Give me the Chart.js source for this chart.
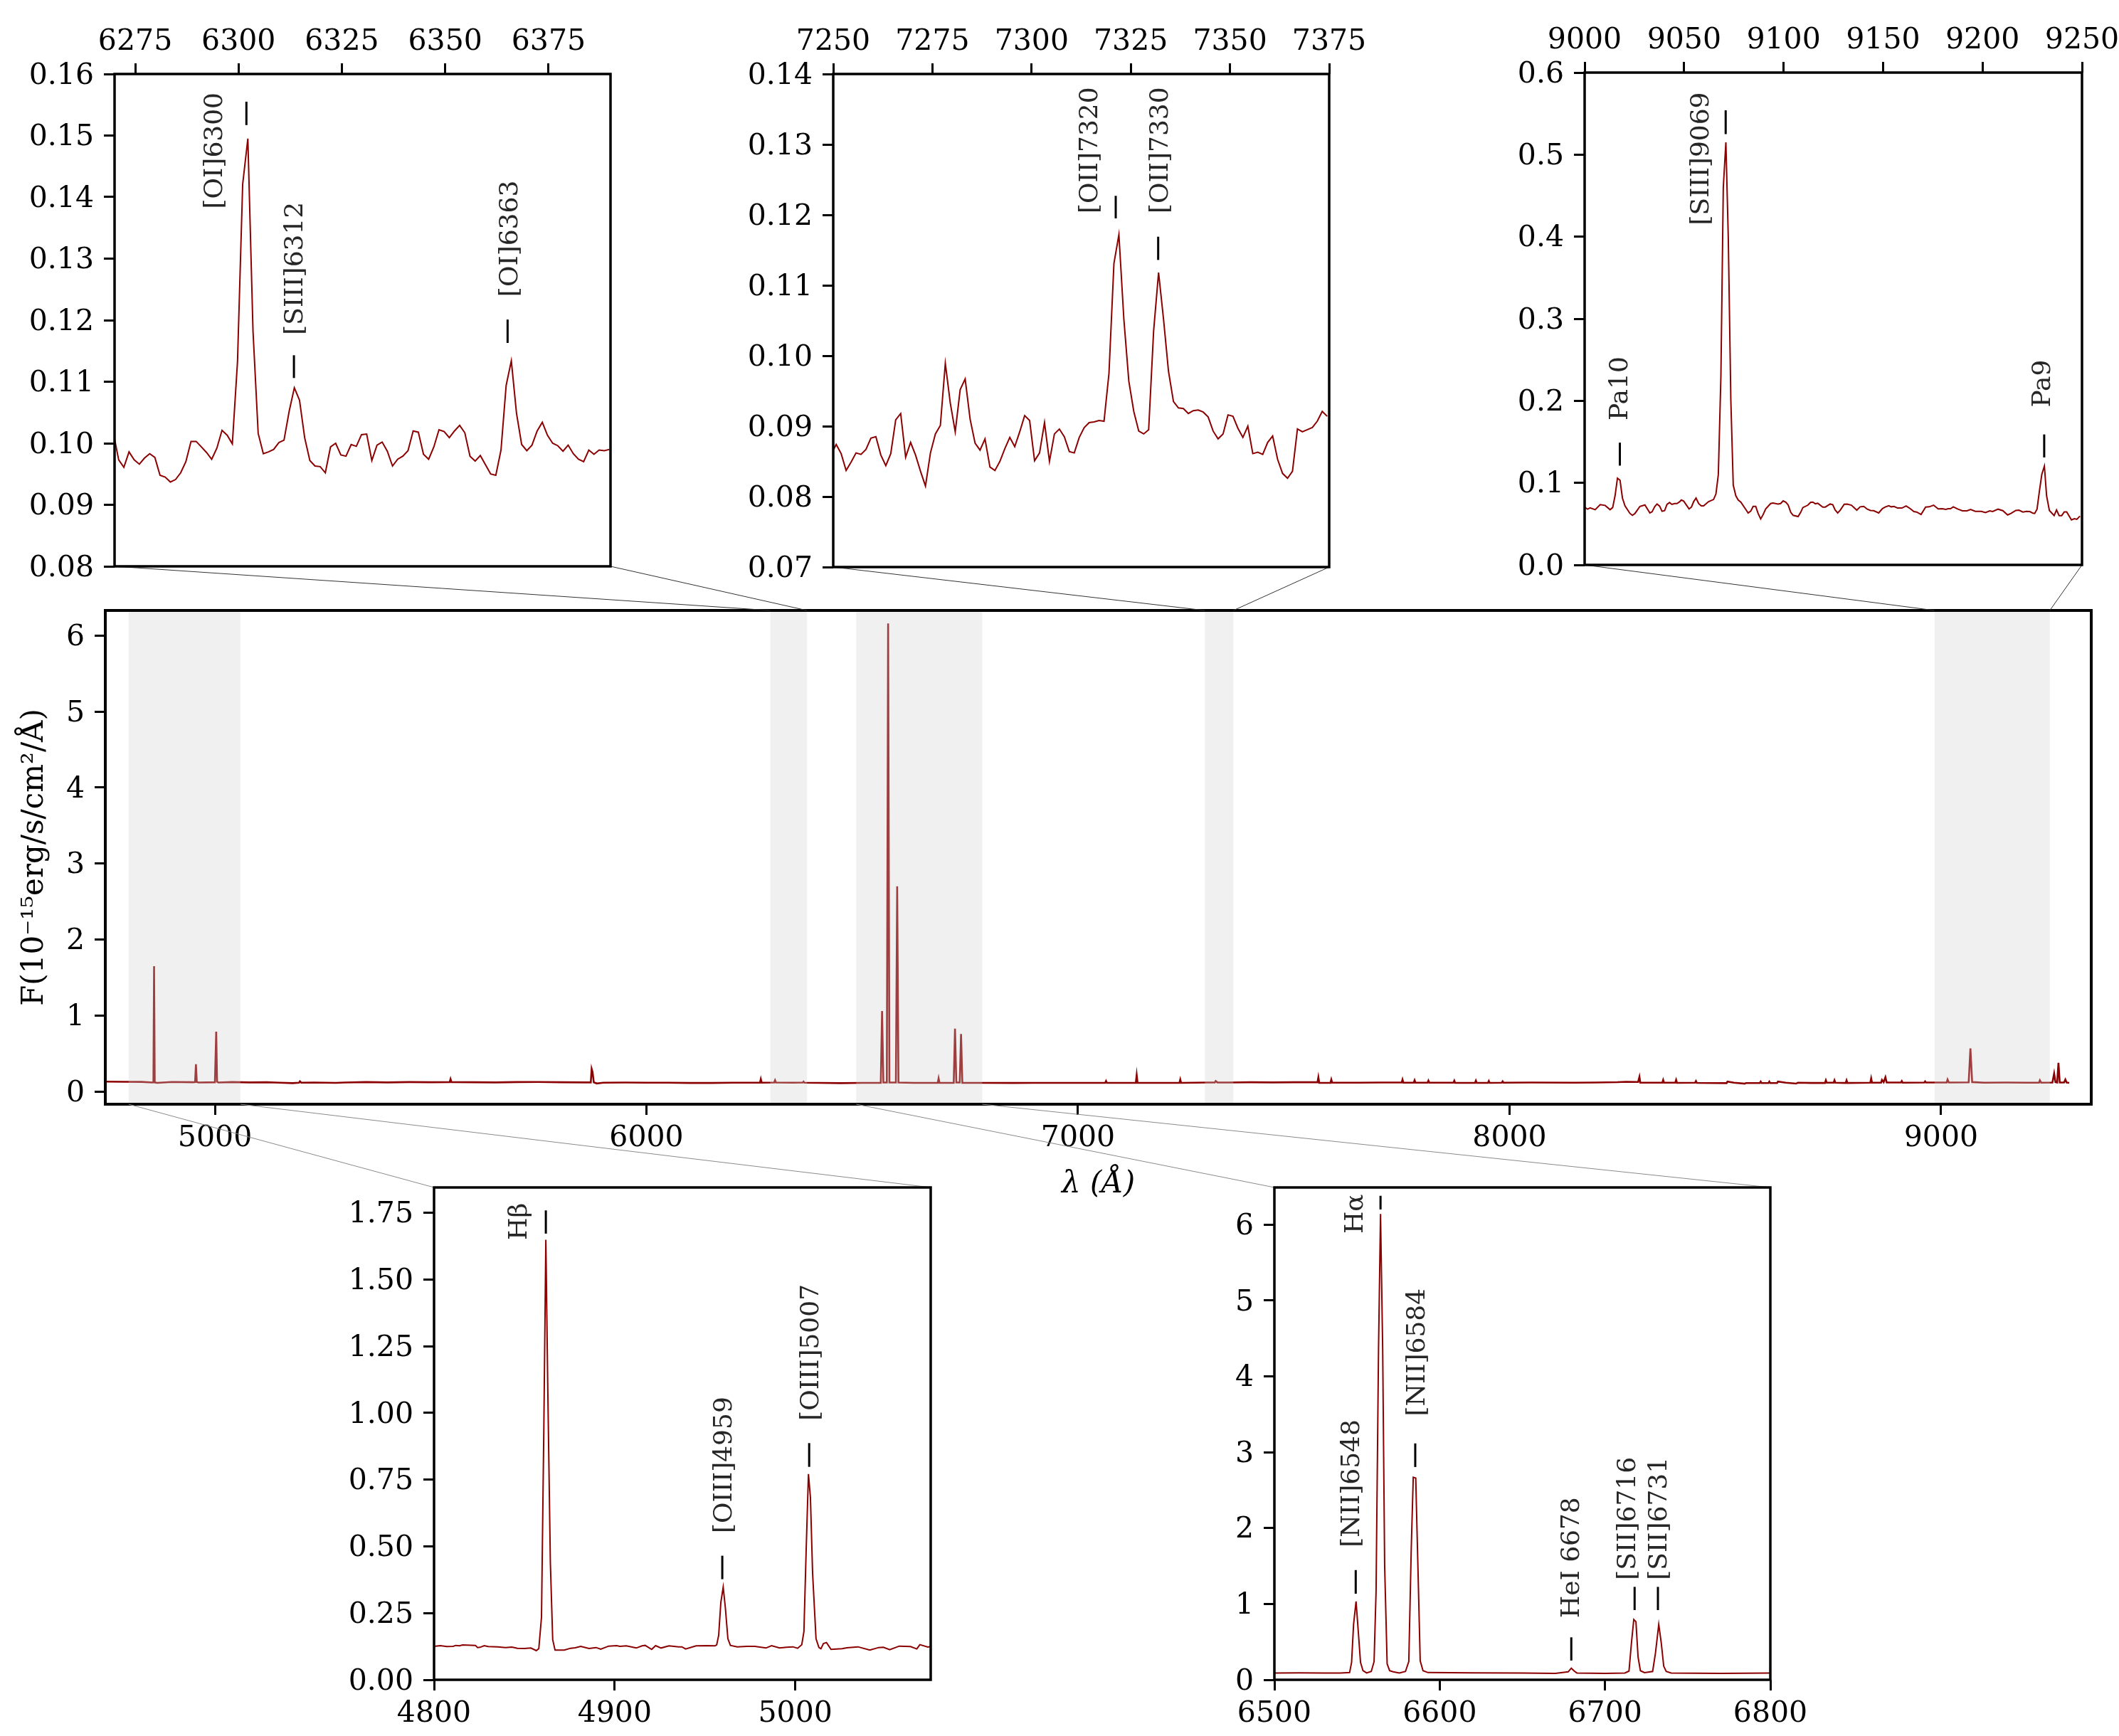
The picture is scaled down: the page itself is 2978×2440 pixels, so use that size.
<!DOCTYPE html>
<html><head><meta charset="utf-8">
<script src="https://cdn.jsdelivr.net/npm/chart.js@4"></script>
<style>html,body{margin:0;padding:0;background:#fff;width:2978px;height:2440px;overflow:hidden}canvas{position:absolute;display:block}</style>
</head><body>
<script>
// ---- data ----
const oiWave=[6270,6271,6272.25,6273.5,6274.75,6276,6277.25,6278.5,6279.75,6281,
6282.25,6283.5,6284.75,6286,6287.25,6288.5,6289.75,6291,6292.25,6293.5,
6294.75,6296,6297.25,6298.5,6299.75,6301,6302.25,6303.5,6304.75,6306,
6307.25,6308.5,6309.75,6311,6312.25,6313.5,6314.75,6316,6317.25,6318.5,
6319.75,6321,6322.25,6323.5,6324.75,6326,6327.25,6328.5,6329.75,6331,
6332.25,6333.5,6334.75,6336,6337.25,6338.5,6339.75,6341,6342.25,6343.5,
6344.75,6346,6347.25,6348.5,6349.75,6351,6352.25,6353.5,6354.75,6356,
6357.25,6358.5,6359.75,6361,6362.25,6363.5,6364.75,6366,6367.25,6368.5,
6369.75,6371,6372.25,6373.5,6374.75,6376,6377.25,6378.5,6379.75,6381,
6382.25,6383.5,6384.75,6386,6387.25,6388.5,6389.75];
const oiFlux=[.1007,.0973,.0961,.0986,.0973,.0966,.0976,.0983,.0977,.0948,
.0945,.0937,.0941,.0952,.0970,.1003,.1003,.0994,.0985,.0974,
.0992,.1021,.1013,.0999,.1133,.1421,.1495,.1182,.1016,.0983,
.0986,.0990,.1001,.1005,.1052,.1090,.1070,.1009,.0972,.0963,
.0962,.0952,.0994,.1000,.0981,.0979,.0998,.0995,.1014,.1015,
.0972,.0997,.1002,.0987,.0963,.0974,.0979,.0988,.1020,.1018,
.0982,.0974,.0994,.1022,.1019,.1009,.1020,.1029,.1017,.0979,
.0971,.0980,.0965,.0950,.0948,.0989,.1094,.1134,.1049,.0998,
.0988,.0997,.1020,.1034,.1013,.1000,.0996,.0987,.0997,.0983,
.0974,.0970,.0989,.0982,.0989,.0988,.0990];
const oiiWave=[7250,7250.75,7252,7253.25,7254.5,7255.75,7257,7258.25,7259.5,7260.75,
7262,7263.25,7264.5,7265.75,7267,7268.25,7269.5,7270.75,7272,7273.25,
7274.5,7275.75,7277,7278.25,7279.5,7280.75,7282,7283.25,7284.5,7285.75,
7287,7288.25,7289.5,7290.75,7292,7293.25,7294.5,7295.75,7297,7298.25,
7299.5,7300.75,7302,7303.25,7304.5,7305.75,7307,7308.25,7309.5,7310.75,
7312,7313.25,7314.5,7315.75,7317,7318.25,7319.5,7320.75,7322,7323.25,
7324.5,7325.75,7327,7328.25,7329.5,7330.75,7332,7333.25,7334.5,7335.75,
7337,7338.25,7339.5,7340.75,7342,7343.25,7344.5,7345.75,7347,7348.25,
7349.5,7350.75,7352,7353.25,7354.5,7355.75,7357,7358.25,7359.5,7360.75,
7362,7363.25,7364.5,7365.75,7367,7368.25,7369.5,7370.75,7372,7373.25,7374.5];
const oiiFlux=[.0866,.0874,.0861,.0837,.0849,.0862,.0860,.0867,.0883,.0885,
.0859,.0844,.0861,.0909,.0918,.0856,.0877,.0859,.0836,.0815,
.0862,.0889,.0901,.0989,.0933,.0892,.0952,.0967,.0910,.0876,
.0866,.0882,.0842,.0837,.0850,.0868,.0884,.0871,.0892,.0915,
.0908,.0851,.0862,.0905,.0850,.0889,.0896,.0885,.0864,.0862,
.0884,.0898,.0905,.0906,.0908,.0907,.0975,.1131,.1172,.1052,
.0964,.0921,.0893,.0889,.0895,.1035,.1118,.1052,.0978,.0935,
.0926,.0925,.0918,.0922,.0923,.0920,.0913,.0893,.0882,.0889,
.0916,.0914,.0897,.0884,.0900,.0861,.0863,.0860,.0877,.0886,
.0853,.0833,.0826,.0836,.0896,.0892,.0895,.0898,.0907,.0921,.0914];
const siiiPoints=[[9000,.0705],[9001.5,.0679],[9002.8,.0696],[9005.3,.0673],[9007.8,.0734],[9010.3,.0725],[9012.8,.0673],[9014.1,.0699],[9015.3,.0843],[9016.5,.1057],[9017.8,.1031],[9019,.0815],[9020.3,.0719],[9022.8,.0627],[9024,.0604],[9025.3,.0627],[9027.8,.0713],[9030.3,.0731],[9032.8,.0633],[9033.9,.0647],[9035.3,.0713],[9036.4,.0742],[9037.7,.0716],[9038.9,.0653],[9040.2,.0661],[9041.4,.0737],[9042.7,.0760],[9043.9,.0737],[9045.2,.0748],[9046.4,.0748],[9047.7,.0768],[9048.6,.0791],[9049.8,.0777],[9052.5,.0682],[9053.7,.0705],[9054.8,.0771],[9056,.0815],[9057.3,.0748],[9058.6,.0719],[9059.8,.0719],[9062.3,.0771],[9064.8,.0797],[9066,.0864],[9067.2,.110],[9068.5,.23],[9069.7,.46],[9071,.515],[9072.2,.40],[9073.5,.20],[9074.7,.0973],[9076,.0843],[9077.2,.0791],[9078.5,.0765],[9081,.0676],[9082.2,.0633],[9083.5,.0656],[9084.7,.0713],[9086,.0713],[9087.2,.0627],[9088.5,.0560],[9089.7,.0612],[9091,.0682],[9093.5,.0748],[9094.7,.0754],[9097.2,.0742],[9098.5,.0748],[9099.8,.0780],[9101.1,.0765],[9102.3,.0731],[9103.6,.0641],[9104.8,.0604],[9107.3,.0589],[9108.6,.0641],[9109.7,.0699],[9112.2,.0728],[9113.6,.0763],[9114.7,.0765],[9116,.0745],[9117.2,.0751],[9119.7,.0705],[9121,.0705],[9123.4,.0742],[9124.7,.0734],[9125.9,.0670],[9127.2,.0633],[9128.4,.0664],
[9130.5,.0739],[9132,.0742],[9134.1,.0728],[9136.8,.0667],[9138.5,.0708],[9140.3,.0713],[9142.1,.0679],[9143.7,.0664],[9145.3,.0661],[9147.8,.0633],[9149.7,.0687],[9151.1,.0705],[9152.9,.0722],[9154.1,.0708],[9155.5,.0713],[9157.3,.0693],[9159.5,.0693],[9161.6,.0719],[9163.7,.0685],[9165.5,.0650],[9166.9,.0644],[9169.1,.0615],[9171.4,.0705],[9173.2,.0708],[9175.4,.0728],[9177.7,.0682],[9179.8,.0685],[9181.5,.0676],[9182.7,.0685],[9183.9,.0685],[9185.3,.0708],[9187.5,.0682],[9189.9,.0659],[9192.2,.0659],[9194,.0676],[9196.4,.0653],[9199.4,.0653],[9201.5,.0638],[9203.6,.0659],[9205.1,.0650],[9207.8,.0679],[9210.2,.0661],[9212.6,.0609],[9214.3,.0627],[9216.7,.0664],[9218.3,.0667],[9220.3,.0644],[9222.1,.0653],[9223.8,.0650],[9225.3,.0630],[9226.2,.0627],[9227.4,.0679],[9228.6,.0901],[9229.8,.1103],[9231.1,.1205],[9232.2,.0843],[9233.6,.0664],[9236,.0601],[9237.2,.0670],[9238.5,.0601],[9239.8,.0601],[9241.1,.0647],[9242.3,.0647],[9244.7,.0549],[9246.2,.0563],[9247.4,.0555],[9249,.0595]];
const hbetaPoints=[[4800,.125],[4800.9,.1262],[4803.5,.128],[4807,.1244],[4810.6,.1253],[4812,.1289],[4814.1,.1271],[4815.8,.1307],[4822.9,.1289],[4824.1,.1209],[4825.5,.1218],[4827.8,.128],[4829.9,.1244],[4835.2,.1236],[4839.6,.1209],[4843.1,.1227],[4846.1,.1182],[4850.1,.1173],[4853.6,.1191],[4856.6,.1093],[4858,.1164],[4859.5,.235],[4860.8,.95],[4861.9,1.649],[4863,1.08],[4864.4,.44],[4865.7,.15],[4867,.1111],[4872.1,.1111],[4875.6,.1182],[4878.2,.12],[4881.2,.1253],[4885.8,.1173],[4889.7,.1209],[4892.3,.1147],[4896.7,.1262],[4901.1,.128],[4902.9,.1253],[4906.4,.1271],[4912,.1191],[4915.2,.1271],[4916.9,.1289],[4920.5,.1138],[4922.7,.128],[4925.7,.1191],[4930.1,.1271],[4935.4,.1236],[4937.2,.1236],[4939.3,.1156],[4945.1,.1271],[4951.2,.128],[4955.6,.1271],[4956.5,.1307],[4957.6,.167],[4958.8,.29],[4960.1,.347],[4961.3,.27],[4962.7,.154],[4964.1,.129],[4967.9,.1236],[4973.2,.1253],[4977.6,.1253],[4983.8,.1191],[4986.9,.128],[4991.3,.1191],[4995.2,.1218],[4998.7,.1236],[5001.3,.1182],[5003.6,.1316],[5004.8,.181],[5006.1,.50],[5007.3,.771],[5008.4,.684],[5009.6,.40],[5011.5,.154],[5013.1,.1209],[5014.2,.1164],[5015.6,.136],[5017.3,.1396],[5019.8,.1138],[5026,.1164],[5028.6,.12],[5034.7,.1236],[5041.3,.1111],[5046.2,.1209],[5048.8,.1218],[5052.3,.1129],[5057.6,.1262],[5063.8,.1244],[5067.3,.1156],[5069,.1316],[5073.4,.1227],[5075,.125]];
const halphaPoints=[[6500,.09],[6515,.092],[6530,.088],[6540,.09],[6545.5,.095],[6546.7,.23],[6547.9,.73],[6549.4,1.034],[6550.6,.68],[6552.1,.23],[6553.6,.12],[6555.8,.09],[6558.6,.11],[6560.3,.24],[6561.5,1.16],[6563,4.37],[6564.2,6.14],[6565.5,4.37],[6566.7,1.5],[6568.2,.21],[6569.7,.12],[6571.9,.105],[6575.6,.09],[6579.3,.11],[6581.3,.24],[6582.8,1.74],[6584,2.67],[6585.5,2.66],[6586.7,1.6],[6588.2,.25],[6589.9,.12],[6592.9,.095],[6620,.092],[6650,.088],[6670,.085],[6677.7,.105],[6679.6,.153],[6681.4,.115],[6683,.09],[6700,.085],[6712,.09],[6714.5,.115],[6716,.49],[6717.4,.795],[6718.7,.766],[6720,.30],[6721.4,.12],[6723.9,.095],[6728.8,.11],[6730.5,.35],[6732.5,.73],[6734,.49],[6735.5,.18],[6737,.11],[6740,.09],[6770,.085],[6800,.09]];
const fullPoints=[[4746,.132],[4790,.130],[4830,.129],[4856,.120],[4857.5,.122],[4859,1.65],[4860.5,.122],[4866,.116],[4900,.127],[4950,.124],[4954,.127],[4956,.36],[4958,.127],[4962,.120],[5000,.124],[5003,.79],[5005,.132],[5008,.120],[5040,.126],[5080,.122],[5120,.124],[5150,.118],[5180,.112],[5195,.118],[5197,.136],[5200,.118],[5230,.120],[5280,.116],[5300,.120],[5350,.126],[5400,.122],[5450,.126],[5500,.124],[5544,.126],[5546,.165],[5548,.126],[5600,.124],[5650,.122],[5700,.126],[5750,.128],[5800,.124],[5860,.122],[5871,.122],[5873,.30],[5875,.26],[5878,.122],[5885,.108],[5900,.118],[5950,.120],[6000,.118],[6050,.118],[6100,.115],[6150,.115],[6200,.118],[6263,.118],[6265,.166],[6267,.118],[6296,.120],[6298,.15],[6300,.120],[6340,.118],[6362,.120],[6364,.132],[6366,.118],[6400,.116],[6450,.112],[6500,.116],[6543,.116],[6546,1.06],[6549,.12],[6557,.12],[6560,6.16],[6563,.12],[6578,.12],[6581,2.70],[6584,.12],[6620,.116],[6650,.116],[6675,.116],[6677,.175],[6679,.116],[6712,.116],[6715,.83],[6718,.12],[6726,.12],[6729,.76],[6732,.116],[6780,.116],[6850,.115],[6900,.116],[6950,.116],[6998,.116],[7063,.116],[7065,.14],[7067,.116],[7134,.116],[7136,.22],[7138,.116],[7200,.116],[7235,.116],[7237,.16],[7239,.116],[7300,.120],[7317,.120],[7319,.14],[7323,.122],[7350,.12],[7400,.124],[7450,.122],[7500,.124],[7555,.124],[7557,.19],[7559,.116],[7585,.116],[7587,.16],[7589,.118],[7650,.118],[7700,.12],[7750,.12],[7752,.16],[7754,.118],[7778,.118],[7780,.15],[7782,.118],[7810,.118],[7812,.145],[7814,.118],[7870,.118],[7872,.145],[7874,.116],[7920,.116],[7922,.145],[7924,.116],[7950,.116],[7952,.14],[7954,.116],[7982,.118],[7984,.135],[7986,.118],[8050,.12],[8150,.118],[8200,.12],[8250,.125],[8270,.13],[8298,.128],[8301,.195],[8303,.118],[8354,.118],[8356,.155],[8358,.118],[8384,.118],[8386,.155],[8388,.116],[8430,.118],[8432,.14],[8434,.116],[8503,.112],[8505,.132],[8520,.118],[8545,.105],[8548,.114],[8580,.114],[8582,.132],[8584,.114],[8600,.114],[8602,.132],[8604,.114],[8620,.114],[8622,.132],[8640,.118],[8664,.106],[8668,.118],[8700,.115],[8731,.115],[8733,.15],[8735,.118],[8751,.118],[8753,.15],[8755,.118],[8779,.115],[8781,.15],[8783,.115],[8836,.118],[8838,.175],[8840,.118],[8861,.118],[8863,.155],[8867,.125],[8871,.19],[8874,.12],[8907,.12],[8909,.14],[8911,.118],[8961,.12],[8963,.135],[8965,.12],[9013,.12],[9015,.16],[9018,.12],[9064,.122],[9068,.57],[9072,.126],[9100,.118],[9150,.12],[9200,.118],[9227,.118],[9229,.15],[9232,.118],[9258,.12],[9262,.24],[9265,.125],[9269,.12],[9272,.38],[9275,.12],[9285,.12],[9288,.16],[9291,.12],[9297,.115]];

const oiXTicks=[6275,6300,6325,6350,6375];
const oiYTicks=[.08,.09,.10,.11,.12,.13,.14,.15,.16];
const oiiXTicks=[7250,7275,7300,7325,7350,7375];
const oiiYTicks=[.07,.08,.09,.10,.11,.12,.13,.14];
const siiiXTicks=[9000,9050,9100,9150,9200,9250];
const siiiYTicks=[0,.1,.2,.3,.4,.5,.6];
const hbetaXTicks=[4800,4900,5000];
const hbetaYTicks=[0,.25,.5,.75,1,1.25,1.5,1.75];
const halphaXTicks=[6500,6600,6700,6800];
const halphaYTicks=[0,1,2,3,4,5,6];
const fullXTicks=[5000,6000,7000,8000,9000];
const fullYTicks=[0,1,2,3,4,5,6];

// line identifications: name, wavelength of the mark, flux span of the mark, label anchor in data units
const oiLines=[["[OI]6300",6301.9,.1517,.1555,6294.3,.1381],["[SIII]6312",6313.4,.1106,.1143,6313.8,.1176],["[OI]6363",6365.1,.1163,.1201,6365.9,.1238]];
const oiiLines=[["[OII]7320",7321.2,.1195,.1227,7314.8,.1202],["[OII]7330",7331.9,.1136,.1169,7332.6,.1202]];
const siiiLines=[["Pa10",9017.7,.121,.149,9018.1,.176],["[SIII]9069",9070.9,.525,.554,9058.8,.414],["Pa9",9231,.131,.159,9230.6,.192]];
const hbetaLines=[["Hβ",4861.9,1.672,1.759,4847.4,1.648],["[OIII]4959",4959.6,.377,.465,4961,.549],["[OIII]5007",5007.7,.798,.887,5008.9,.971]];
const halphaLines=[["[NII]6548",6549.2,1.135,1.446,6547.2,1.747],["Hα",6564.2,6.2,6.38,6549.4,5.88],["[NII]6584",6585.2,2.805,3.116,6586.7,3.475],["HeI 6678",6679.6,.254,.56,6680,.814],["[SII]6716",6717.9,.919,1.225,6714,1.316],["[SII]6731",6732,.919,1.225,6733.3,1.316]];

const shadeStart=[4800,6287,6486,7294,8985];
const shadeEnd=[5059,6372,6778,7360,9252];

// ---- drawing ----
const FONT="'DejaVu Serif'", RED='#8b0000';
Chart.defaults.font.family=FONT;
function xy(a,b){return a.map((v,i)=>({x:v,y:b[i]}));}
function pts(p){return p.map(q=>({x:q[0],y:q[1]}));}

function nudgeLabels(s,dy){
  if(s._nudged) return; s._nudged=true;
  const o=s._computeLabelItems;
  s._computeLabelItems=function(ca){return o.call(this,ca).map(i=>{i.textOffset+=dy;return i;});};
}
function axis(pos,min,max,ticks,fmt,size,lw,extra){
  const horiz=(pos==='top'||pos==='bottom');
  return Object.assign({
    type:'linear',position:pos,min,max,
    afterBuildTicks(s){s.ticks=ticks.map(v=>({value:v}));},
    afterFit(s){ if(horiz) s.height=size; else {s.width=size; nudgeLabels(s,3);} s.paddingLeft=s.paddingRight=s.paddingTop=s.paddingBottom=0; },
    border:{display:false},
    grid:{display:true,drawOnChartArea:false,drawTicks:true,tickLength:15,tickWidth:lw,tickColor:'#000'},
    ticks:{autoSkip:false,maxRotation:0,minRotation:0,color:'#000',padding:pos==='bottom'?9:(pos==='top'?5:14),font:{family:FONT,size:41},callback:fmt}
  },extra||{});
}
function framePlugin(lw){return {id:'frame',afterDraw(c){const a=c.chartArea,x=c.ctx;x.save();x.strokeStyle='#000';x.lineWidth=lw;x.strokeRect(a.left,a.top,a.right-a.left,a.bottom-a.top);x.restore();}};}
function linePlugin(lines){return {id:'idents',afterDraw(c){
  const x=c.ctx,sx=c.scales.x,sy=c.scales.y;
  x.save();
  lines.forEach(l=>{
    const px=sx.getPixelForValue(l[1]);
    x.strokeStyle='#000';x.lineWidth=3;
    x.beginPath();x.moveTo(px,sy.getPixelForValue(l[2]));x.lineTo(px,sy.getPixelForValue(l[3]));x.stroke();
    x.save();
    x.translate(sx.getPixelForValue(l[4]),sy.getPixelForValue(l[5]));
    x.rotate(-Math.PI/2);
    x.font="36px "+FONT;x.fillStyle='#262626';x.textAlign='left';x.textBaseline='middle';
    x.fillText(l[0],0,0);
    x.restore();
  });
  x.restore();
}};}

const M={l:135,t:95,b:95,r:52};
function inset(cfg){
  const {x0,x1,y0,y1}=cfg.rect,c=document.createElement('canvas');
  const W=x1-x0+M.l+M.r,H=y1-y0+M.t+M.b;
  c.width=W;c.height=H;c.style.left=(x0-M.l)+'px';c.style.top=(y0-M.t)+'px';c.style.width=W+'px';c.style.height=H+'px';
  document.body.appendChild(c);
  const top=cfg.xPos==='top';
  return new Chart(c,{type:'line',
    data:{datasets:[{data:cfg.data,borderColor:RED,borderWidth:2,pointRadius:0,tension:0,fill:false}]},
    options:{responsive:false,animation:false,devicePixelRatio:1,
      layout:{padding:{left:0,right:M.r,top:top?0:M.t,bottom:top?M.b:0}},
      plugins:{legend:{display:false},tooltip:{enabled:false}},
      scales:{
        x:axis(cfg.xPos,cfg.xMin,cfg.xMax,cfg.xTicks,v=>String(v),top?M.t:M.b,3),
        y:axis('left',cfg.yMin,cfg.yMax,cfg.yTicks,v=>v.toFixed(cfg.dec),M.l,3)
      }},
    plugins:[framePlugin(3.5),linePlugin(cfg.lines)]});
}

const rA={x0:161,x1:858,y0:104,y1:796},rB={x0:1171,x1:1868,y0:104,y1:797},rC={x0:2227,x1:2926,y0:102,y1:794},
      rD={x0:610,x1:1308,y0:1669,y1:2361},rE={x0:1791,x1:2488,y0:1669,y1:2361};

// main spectrum, with the zoom connectors drawn on its full-page canvas
const mainBox={left:148,right:2939,top:858,bottom:1552};
const shadePlugin={id:'shade',afterDatasetsDraw(c){
  const a=c.chartArea,x=c.ctx,s=c.scales.x;x.save();x.fillStyle='rgba(205,205,205,0.30)';
  shadeStart.forEach((v,i)=>{const l=s.getPixelForValue(v),r=s.getPixelForValue(shadeEnd[i]);x.fillRect(l,a.top,r-l,a.bottom-a.top);});
  x.restore();
}};
const connectorPlugin={id:'connectors',afterDraw(c){
  const x=c.ctx,s=c.scales.x,a=c.chartArea;
  const seg=(x1,y1,x2,y2,col)=>{x.strokeStyle=col;x.lineWidth=1;x.beginPath();x.moveTo(x1,y1);x.lineTo(x2,y2);x.stroke();};
  x.save();
  const ups=[[rA,1],[rB,3],[rC,4]];
  ups.forEach(u=>{const r=u[0],i=u[1];
    seg(r.x0,r.y1,s.getPixelForValue(shadeStart[i]),a.top,'#333');
    seg(r.x1,r.y1,s.getPixelForValue(shadeEnd[i]),a.top,'#333');});
  const downs=[[rD,0],[rE,2]];
  downs.forEach(u=>{const r=u[0],i=u[1];
    seg(r.x0,r.y0,s.getPixelForValue(shadeStart[i]),a.bottom,'#8a8a8a');
    seg(r.x1,r.y0,s.getPixelForValue(shadeEnd[i]),a.bottom,'#8a8a8a');});
  x.restore();
}};
const mc=document.createElement('canvas');
mc.width=2978;mc.height=2440;mc.style.left='0';mc.style.top='0';mc.style.width='2978px';mc.style.height='2440px';
document.body.appendChild(mc);
new Chart(mc,{type:'line',
  data:{datasets:[{data:pts(fullPoints),borderColor:RED,borderWidth:2.6,pointRadius:0,tension:0,fill:false}]},
  options:{responsive:false,animation:false,devicePixelRatio:1,
    layout:{padding:{left:0,right:2978-mainBox.right,top:mainBox.top,bottom:2440-mainBox.bottom-138}},
    plugins:{legend:{display:false},tooltip:{enabled:false}},
    scales:{
      x:axis('bottom',4746,9348,fullXTicks,v=>String(v),138,3,{title:{display:true,text:'λ (Å)',color:'#000',padding:{top:0,bottom:0},font:{family:FONT,size:42,style:'italic'}}}),
      y:axis('left',-0.165,6.33,fullYTicks,v=>String(v),148,3,{title:{display:true,text:'F(10⁻¹⁵erg/s/cm²/Å)',color:'#000',padding:{top:24,bottom:0},font:{family:FONT,size:42}}})
    }},
  plugins:[shadePlugin,framePlugin(4),connectorPlugin]});

inset({rect:rA,xPos:'top',xMin:6270,xMax:6390,yMin:.08,yMax:.16,dec:2,xTicks:oiXTicks,yTicks:oiYTicks,data:xy(oiWave,oiFlux),lines:oiLines});
inset({rect:rB,xPos:'top',xMin:7250,xMax:7375,yMin:.07,yMax:.14,dec:2,xTicks:oiiXTicks,yTicks:oiiYTicks,data:xy(oiiWave,oiiFlux),lines:oiiLines});
inset({rect:rC,xPos:'top',xMin:9000,xMax:9250,yMin:0,yMax:.6,dec:1,xTicks:siiiXTicks,yTicks:siiiYTicks,data:pts(siiiPoints),lines:siiiLines});
inset({rect:rD,xPos:'bottom',xMin:4800,xMax:5075,yMin:0,yMax:1.845,dec:2,xTicks:hbetaXTicks,yTicks:hbetaYTicks,data:pts(hbetaPoints),lines:hbetaLines});
inset({rect:rE,xPos:'bottom',xMin:6500,xMax:6800,yMin:0,yMax:6.49,dec:0,xTicks:halphaXTicks,yTicks:halphaYTicks,data:pts(halphaPoints),lines:halphaLines});
</script>
</body></html>
